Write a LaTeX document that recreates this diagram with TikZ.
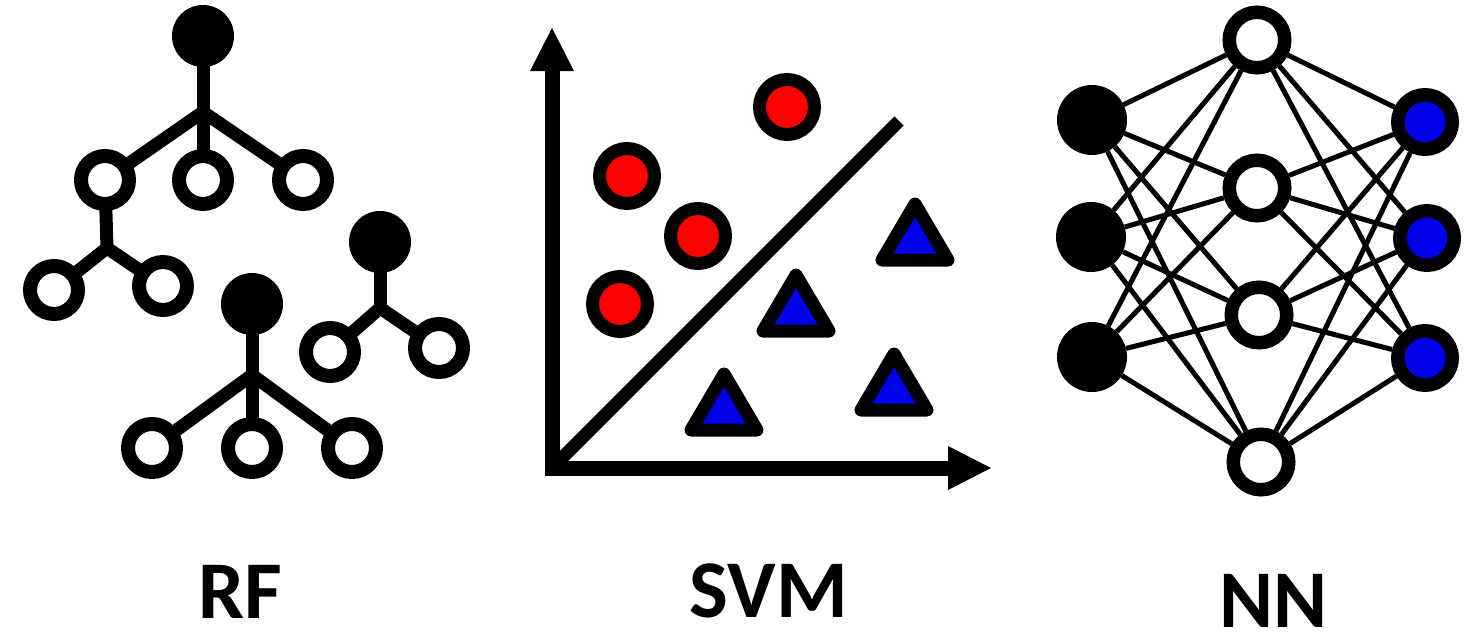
\documentclass[tikz,border=0pt]{standalone}
\usepackage{fontspec}
\setmainfont{Carlito}
\definecolor{ptred}{RGB}{255,0,0}
\definecolor{ptblue}{RGB}{0,0,235}
\begin{document}
\begin{tikzpicture}[x=1pt,y=-1pt,
  rootnode/.style={circle,fill=black,minimum size=62pt,inner sep=0pt},
  leaf/.style={circle,draw=black,fill=white,line width=14pt,minimum size=48pt,inner sep=0pt},
  branch/.style={line width=13pt,line cap=round},
  axisline/.style={line width=15pt,line join=miter},
  sep/.style={line width=13pt},
  redpt/.style={circle,draw=black,fill=ptred,line width=13pt,minimum size=55pt,inner sep=0pt},
  bluetri/.style={draw=black,fill=ptblue,line width=13pt,line join=round},
  inunit/.style={circle,fill=black,minimum size=70pt,inner sep=0pt},
  hidunit/.style={circle,draw=black,fill=white,line width=13.5pt,minimum size=55.5pt,inner sep=0pt},
  outunit/.style={circle,draw=black,fill=ptblue,line width=13.5pt,minimum size=54.5pt,inner sep=0pt},
  link/.style={line width=5pt},
  caption/.style={font=\bfseries\fontsize{82}{90}\selectfont,anchor=base,inner sep=0pt}
]
\useasboundingbox (0,0) rectangle (1474,642);

% ---------------- Random forest: three small trees ----------------
% tree A
\node[rootnode] (rA) at (203,36) {};
\coordinate (jA) at (203,112);
\node[leaf] (a1) at (105,180) {};
\node[leaf] (a2) at (203,180) {};
\node[leaf] (a3) at (303,180) {};
\coordinate (jA2) at (107,248);
\node[leaf] (a4) at (54,290) {};
\node[leaf] (a5) at (163,286) {};
\draw[branch] (rA) -- (jA) -- (a2);
\draw[branch] (jA) -- (a1);
\draw[branch] (jA) -- (a3);
\draw[branch] (a1) -- (jA2);
\draw[branch] (jA2) -- (a4);
\draw[branch] (jA2) -- (a5);

% tree B
\node[rootnode] (rB) at (252,304) {};
\coordinate (jB) at (252,375);
\node[leaf] (b1) at (152,448) {};
\node[leaf] (b2) at (252,448) {};
\node[leaf] (b3) at (352,448) {};
\draw[branch] (rB) -- (jB) -- (b2);
\draw[branch] (jB) -- (b1);
\draw[branch] (jB) -- (b3);

% tree C
\node[rootnode] (rC) at (380,242) {};
\coordinate (jC) at (380,308);
\node[leaf] (c1) at (330,352) {};
\node[leaf] (c2) at (439,348) {};
\draw[branch] (rC) -- (jC);
\draw[branch] (jC) -- (c1);
\draw[branch] (jC) -- (c2);

% ---------------- SVM: axes, separating line, two classes ----------------
\coordinate (org) at (552,468);
\coordinate (ytop) at (552,71);
\coordinate (xend) at (948,468);
\draw[axisline] (ytop) -- (org) -- (xend);
\fill (530,71) -- (574,71) -- (552,28) -- cycle;
\fill (948,446) -- (948,490) -- (991,468) -- cycle;
\coordinate (sepend) at (899,121);
\draw[sep] (org) -- (sepend);

\node[redpt] (p1) at (787,107) {};
\node[redpt] (p2) at (627,176) {};
\node[redpt] (p3) at (698,236) {};
\node[redpt] (p4) at (620,304) {};

\draw[bluetri] (915,204) -- (882,260) -- (948,260) -- cycle;
\draw[bluetri] (796,275) -- (763,331) -- (829,331) -- cycle;
\draw[bluetri] (724,374) -- (691,430) -- (757,430) -- cycle;
\draw[bluetri] (894,354) -- (861,410) -- (927,410) -- cycle;

% ---------------- Neural network: 3-4-3 fully connected ----------------
\coordinate (in1pos) at (1092,120);
\node[inunit] (in1) at (1092,120) {};
\node[inunit] (in2) at (1091,237) {};
\node[inunit] (in3) at (1092,357) {};
\node[hidunit] (h1) at (1257,40) {};
\node[hidunit] (h2) at (1257,188) {};
\node[hidunit] (h3) at (1259,315) {};
\node[hidunit] (h4) at (1261,462) {};
\node[outunit] (o1) at (1425,122) {};
\node[outunit] (o2) at (1427,238) {};
\node[outunit] (o3) at (1425,358) {};
\foreach \i in {1,2,3}{
  \foreach \h in {1,2,3,4}{
    \draw[link] (in\i) -- (h\h);
    \draw[link] (h\h) -- (o\i);
  }
}

% ---------------- captions ----------------
\node[caption] (lblRF) at (240,618) {RF};
\node[caption] (lblSVM) at (769,617) {SVM};
\node[caption] (lblNN) at (1273,627) {NN};
\end{tikzpicture}
\end{document}
